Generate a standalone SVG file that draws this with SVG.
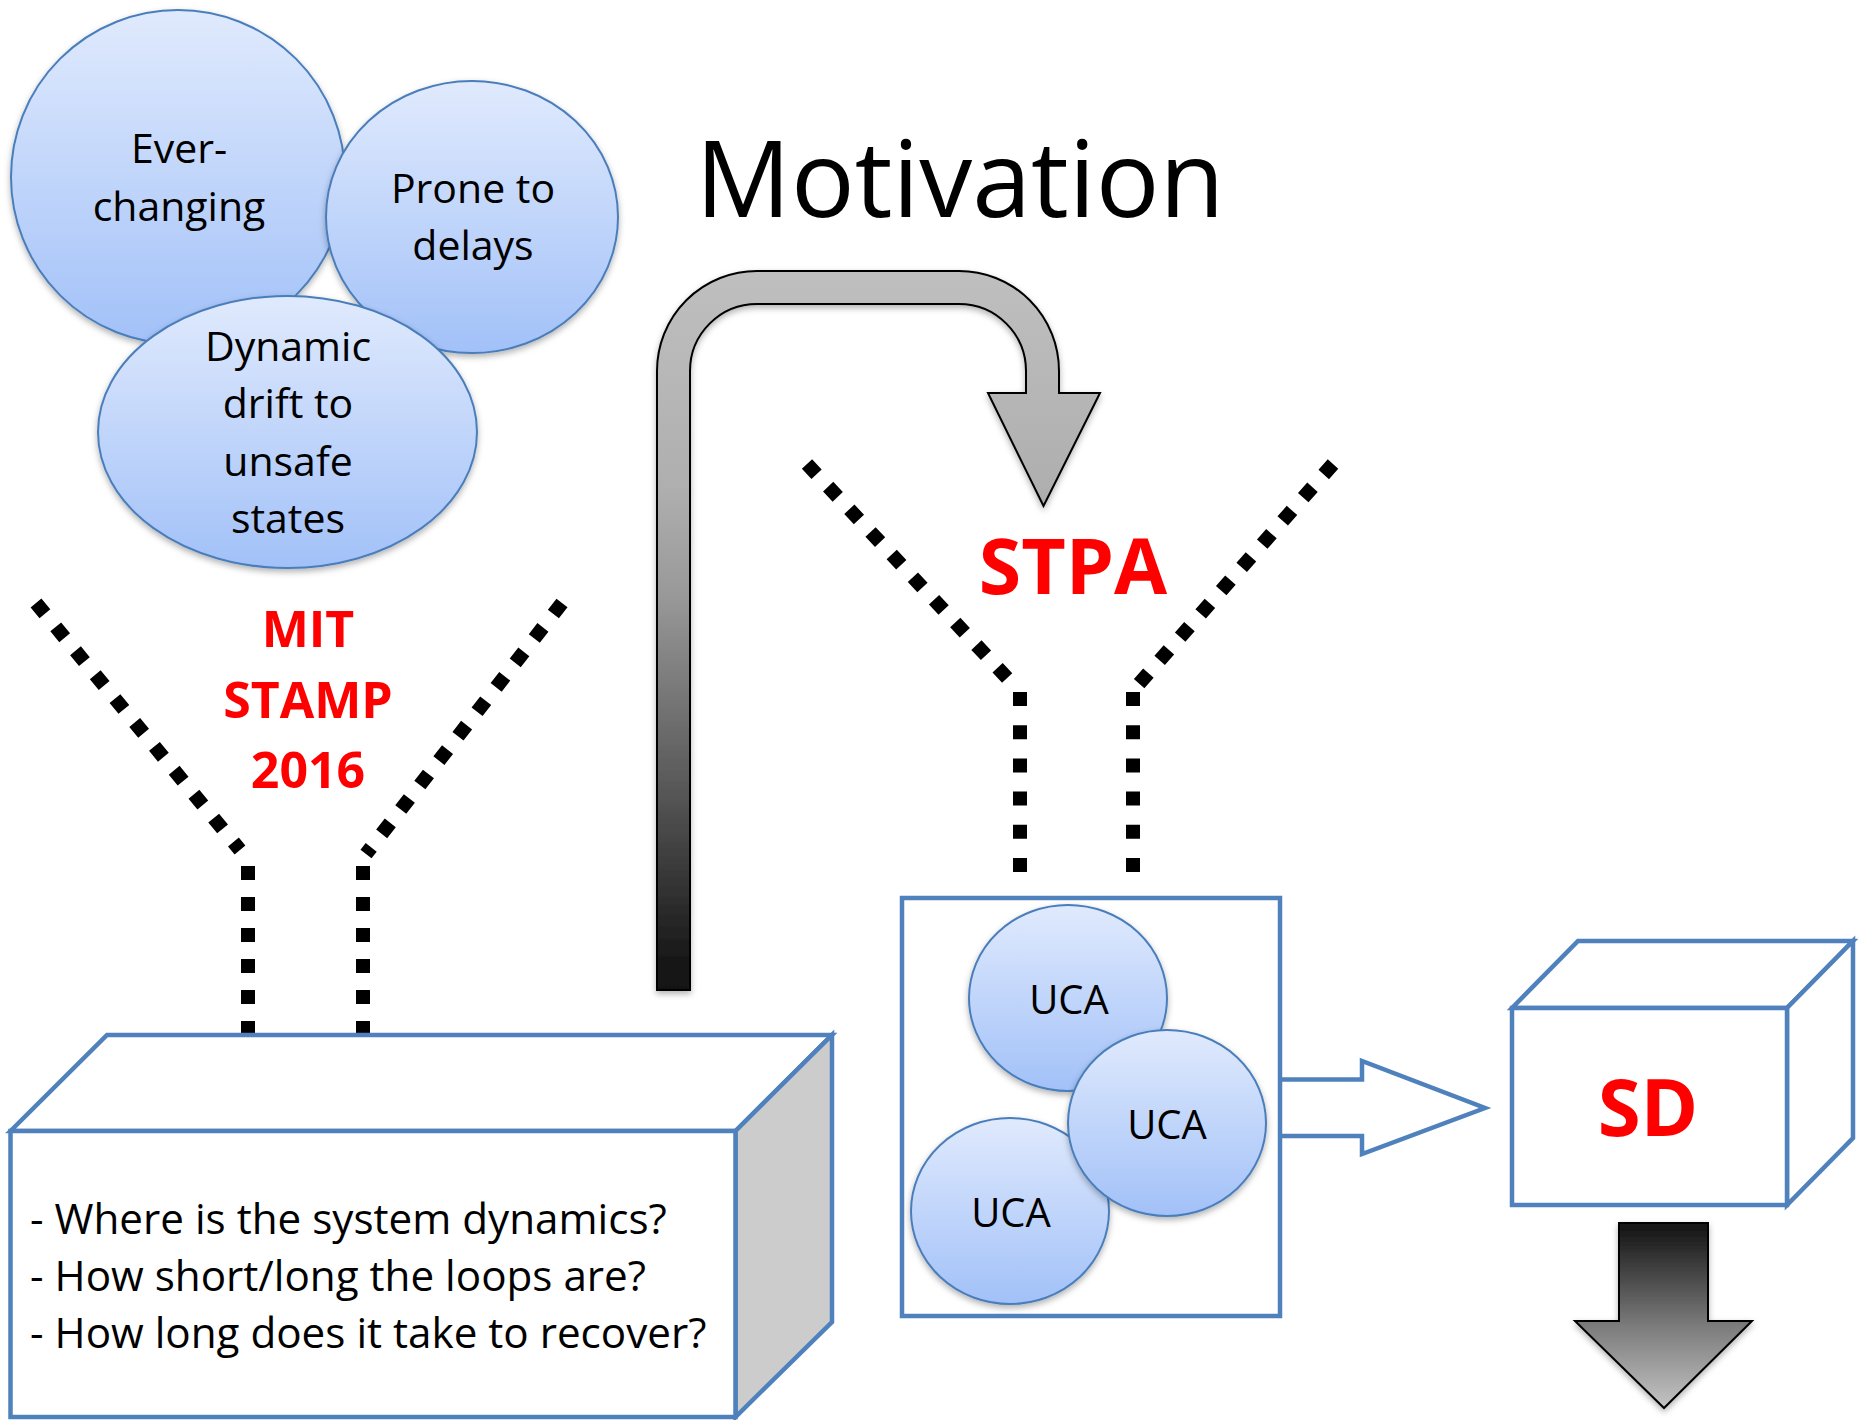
<svg xmlns="http://www.w3.org/2000/svg" width="1863" height="1420" viewBox="0 0 1863 1420">
  <defs>
    <linearGradient id="bubbleFill" x1="0" y1="0" x2="0" y2="1">
      <stop offset="0" stop-color="#e0eafd"/>
      <stop offset="1" stop-color="#a2c1f8"/>
    </linearGradient>
    <linearGradient id="loopFill" gradientUnits="userSpaceOnUse" x1="0" y1="271" x2="0" y2="990">
      <stop offset="0" stop-color="#bfbfbf"/>
      <stop offset="0.3" stop-color="#afafaf"/>
      <stop offset="0.45" stop-color="#999999"/>
      <stop offset="0.73" stop-color="#555555"/>
      <stop offset="0.95" stop-color="#1a1a1a"/>
      <stop offset="1" stop-color="#111111"/>
    </linearGradient>
    <linearGradient id="downFill" gradientUnits="userSpaceOnUse" x1="0" y1="1223" x2="0" y2="1408">
      <stop offset="0" stop-color="#111111"/>
      <stop offset="0.55" stop-color="#7a7a7a"/>
      <stop offset="1" stop-color="#c4c4c4"/>
    </linearGradient>
    <filter id="softShadow" x="-10%" y="-10%" width="120%" height="125%">
      <feDropShadow dx="0" dy="3" stdDeviation="3" flood-color="#000" flood-opacity="0.3"/>
    </filter>
  </defs>
  <style>
    .bubble { fill: url(#bubbleFill); stroke: #4a7ebb; stroke-width: 2; filter: url(#softShadow); }
    .txt { font-family: "Open Sans", "Noto Sans", sans-serif; fill: #000; text-anchor: middle; }
    .bubble-txt { font-size: 41px; }
    .red { font-family: "Open Sans", "Noto Sans", sans-serif; font-weight: bold; fill: #ff0000; text-anchor: middle; }
    .blue-line { fill: #ffffff; stroke: #4f81bd; stroke-width: 4.5; stroke-linejoin: miter; }
    .dots { fill: none; stroke: #000; stroke-width: 14; stroke-dasharray: 14 17; stroke-linecap: butt; }
    .dots-v { stroke-dasharray: 14 19.2; }
  </style>

  <rect width="1863" height="1420" fill="#ffffff"/>

  <!-- dotted funnels -->
  <g id="connectors">
    <g id="funnel-mit">
      <line class="dots" x1="36" y1="603" x2="240" y2="850"/>
      <line class="dots" x1="248" y1="866" x2="248" y2="1040"/>
      <line class="dots" x1="562" y1="603" x2="366" y2="854"/>
      <line class="dots" x1="363" y1="866" x2="363" y2="1040"/>
    </g>
    <g id="funnel-stpa">
      <line class="dots" x1="807" y1="464" x2="1010" y2="681"/>
      <line class="dots dots-v" x1="1020" y1="692" x2="1020" y2="873"/>
      <line class="dots" x1="1333" y1="464" x2="1138" y2="685"/>
      <line class="dots dots-v" x1="1133" y1="692" x2="1133" y2="873"/>
    </g>

    <!-- bent arrow from the MIT box over to STPA -->
    <path id="loop-arrow" filter="url(#softShadow)" fill="url(#loopFill)" stroke="#000" stroke-width="2" stroke-linejoin="miter"
          d="M657,990 L657,371 A100,100 0 0 1 757,271 L959,271 A100,100 0 0 1 1059,371 L1059,393 L1100,393 L1043.5,506 L988,393 L1026,393 L1026,371 A67,67 0 0 0 959,304 L757,304 A67,67 0 0 0 690,371 L690,990 Z"/>

    <!-- hollow arrow from the UCA box to SD -->
    <g id="uca-to-sd">
      <path fill="#ffffff" d="M1277,1079.5 L1362,1079.5 L1362,1061 L1485,1108 L1362,1154 L1362,1136 L1277,1136 Z"/>
      <path fill="none" stroke="#4f81bd" stroke-width="4.5" stroke-linejoin="miter"
            d="M1281,1079.5 L1362,1079.5 L1362,1061 L1485,1108 L1362,1154 L1362,1136 L1281,1136"/>
    </g>

    <!-- arrow leaving SD downwards -->
    <path id="sd-down" filter="url(#softShadow)" fill="url(#downFill)" stroke="#000" stroke-width="2"
          d="M1619,1223 L1708,1223 L1708,1321 L1752,1321 L1664,1408 L1575,1321 L1619,1321 Z"/>
  </g>

  <!-- issue bubbles -->
  <g id="bubble-ever-changing">
    <circle class="bubble" cx="178" cy="177" r="167"/>
    <text class="txt bubble-txt" x="179" y="163">Ever-</text>
    <text class="txt bubble-txt" x="179" y="221">changing</text>
  </g>
  <g id="bubble-delays">
    <ellipse class="bubble" cx="472" cy="217" rx="146" ry="136"/>
    <text class="txt bubble-txt" x="473" y="203">Prone to</text>
    <text class="txt bubble-txt" x="473" y="260">delays</text>
  </g>
  <g id="bubble-drift">
    <ellipse class="bubble" cx="287.5" cy="432" rx="189.5" ry="136"/>
    <text class="txt bubble-txt" x="288" y="361">Dynamic</text>
    <text class="txt bubble-txt" x="288" y="418">drift to</text>
    <text class="txt bubble-txt" x="288" y="476">unsafe</text>
    <text class="txt bubble-txt" x="288" y="533">states</text>
  </g>

  <!-- title -->
  <g id="title">
    <text class="txt" x="960" y="217" font-size="106">Motivation</text>
  </g>

  <g id="label-mit">
    <text class="red" x="308" y="647" font-size="50">MIT</text>
    <text class="red" x="308" y="718" font-size="50">STAMP</text>
    <text class="red" x="308" y="788" font-size="50">2016</text>
  </g>

  <g id="label-stpa">
    <text class="red" x="1073" y="594" font-size="77">STPA</text>
  </g>

  <!-- MIT STAMP box with questions -->
  <g id="box-questions">
    <polygon class="blue-line" points="10.5,1131 107,1035 832,1035 735.5,1131"/>
    <polygon class="blue-line" points="735.5,1131 832,1035 832,1322 735.5,1417" style="fill:#cccccc"/>
    <rect class="blue-line" x="10.5" y="1131" width="725" height="286"/>
    <g class="txt" font-size="42.2" style="text-anchor:start">
      <text x="30" y="1234">- Where is the system dynamics?</text>
      <text x="30" y="1291">- How short/long the loops are?</text>
      <text x="30" y="1348">- How long does it take to recover?</text>
    </g>
  </g>

  <!-- unsafe control actions -->
  <g id="box-uca">
    <rect class="blue-line" x="902" y="898" width="378" height="418"/>
  </g>
  <g id="uca-1">
    <ellipse class="bubble" cx="1068" cy="998" rx="99" ry="93"/>
    <text class="txt" x="1069" y="1014" font-size="40">UCA</text>
  </g>
  <g id="uca-3">
    <ellipse class="bubble" cx="1010" cy="1211" rx="99" ry="93"/>
    <text class="txt" x="1011" y="1227" font-size="40">UCA</text>
  </g>
  <g id="uca-2">
    <ellipse class="bubble" cx="1167" cy="1123" rx="99" ry="93"/>
    <text class="txt" x="1167" y="1139" font-size="40">UCA</text>
  </g>

  <!-- system dynamics cube -->
  <g id="cube-sd">
    <polygon class="blue-line" points="1512,1008 1578,941 1853,941 1787,1008"/>
    <polygon class="blue-line" points="1787,1008 1853,941 1853,1138 1787,1205"/>
    <rect class="blue-line" x="1512" y="1008" width="275" height="197"/>
    <text class="red" x="1648" y="1136" font-size="78">SD</text>
  </g>
</svg>
